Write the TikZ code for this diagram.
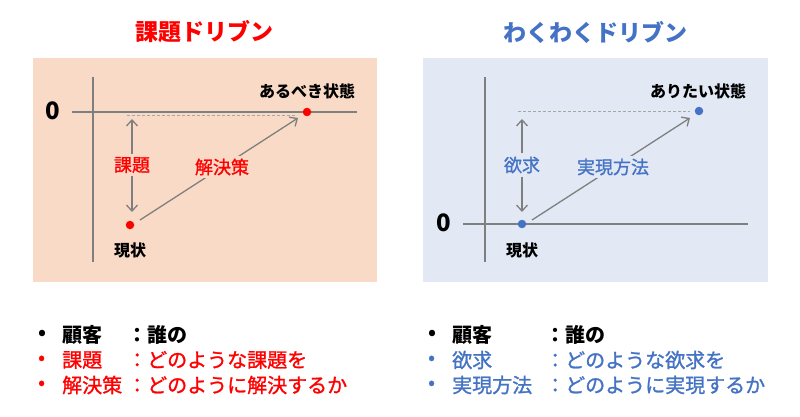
\documentclass[tikz,border=0pt]{standalone}
\usepackage{fontspec}
\setmainfont{Noto Sans CJK JP}
\newfontfamily\medfont[FakeBold=1.2]{Noto Sans CJK JP}
\usetikzlibrary{arrows.meta}
\definecolor{kred}{HTML}{FF0000}
\definecolor{kblue}{HTML}{4472C4}
\definecolor{peach}{HTML}{F8DAC6}
\definecolor{paleblue}{HTML}{E2E9F5}
\definecolor{axisgray}{HTML}{7F7F7F}
\definecolor{dashgray}{HTML}{A6A6A6}
\tikzset{
  axisline/.style={draw=axisgray, line width=1.4pt},
  guide/.style={draw=dashgray, line width=0.9pt, dash pattern=on 3pt off 2pt},
  arrowline/.style={draw=axisgray, line width=1.3pt, -{Straight Barb[length=6pt,width=11pt,line width=1.3pt]}},
  dot/.style={circle, inner sep=0pt, minimum size=8.5pt},
  title/.style={font=\fontsize{23}{27}\selectfont\bfseries},
  zero/.style={font=\fontsize{24}{27}\selectfont\bfseries},
  statelbl/.style={font=\fontsize{16}{19}\selectfont\bfseries, text=black},
  keylbl/.style={font=\fontsize{18}{21}\selectfont\medfont, inner sep=2pt},
  listtxt/.style={font=\fontsize{20}{24}\selectfont\medfont, anchor=west, inner sep=0pt},
  listblack/.style={listtxt, text=black, font=\fontsize{20}{24}\selectfont\bfseries},
}
\begin{document}
\begin{tikzpicture}[x=1pt,y=-1pt]
\useasboundingbox (0,0) rectangle (800,417);
\fill[white] (0,0) rectangle (800,417);

% titles
\node[title, text=kred] (t1) at (204,32) {課題ドリブン};
\node[title, text=kblue] (t2) at (595,32) {わくわくドリブン};

% panels
\fill[peach] (33,58) rectangle (377,282);
\fill[paleblue] (423,58) rectangle (768,282);

% ---------- left panel ----------
\draw[axisline] (93,77) -- (93,262);
\draw[axisline] (72,112) -- (357,112);
\node[zero] (z1) at (53,111) {0};
\draw[guide] (127,115) -- (297,115);
\node[dot, fill=kred] (goal1) at (307,112) {};
\node[statelbl] (goal1l) at (307,91) {あるべき状態};
\node[dot, fill=kred] (cur1) at (130,225) {};
\node[statelbl] (cur1l) at (130,250) {現状};
\node[keylbl, text=kred] (gap1) at (132,165) {課題};
\coordinate (gap1t) at (132,119);
\coordinate (gap1b) at (132,212);
\draw[arrowline] (gap1.north) ++(0,-1) -- (gap1t);
\draw[arrowline] (gap1.south) ++(0,1) -- (gap1b);
\coordinate (s1a) at (140,220);
\coordinate (s1b) at (298,118);
\draw[arrowline] (s1a) -- (s1b);
\node[keylbl, text=kred, fill=peach, inner sep=3pt] (sol1) at (222,167) {解決策};

% ---------- right panel ----------
\draw[axisline] (485,77) -- (485,262);
\draw[axisline] (463,224) -- (748,224);
\node[zero] (z2) at (444,223) {0};
\draw[guide] (518,111) -- (690,111);
\node[dot, fill=kblue] (goal2) at (699,111) {};
\node[statelbl] (goal2l) at (698,91) {ありたい状態};
\node[dot, fill=kblue] (cur2) at (522,224) {};
\node[statelbl] (cur2l) at (522,250) {現状};
\node[keylbl, text=kblue] (gap2) at (522,165) {欲求};
\coordinate (gap2t) at (522,119);
\coordinate (gap2b) at (522,212);
\draw[arrowline] (gap2.north) ++(0,-1) -- (gap2t);
\draw[arrowline] (gap2.south) ++(0,1) -- (gap2b);
\coordinate (s2a) at (532,220);
\coordinate (s2b) at (690,118);
\draw[arrowline] (s2a) -- (s2b);
\node[keylbl, text=kblue, fill=paleblue, inner sep=3pt] (sol2) at (613,167) {実現方法};

% ---------- left list ----------
\node[listblack] (lb1) at (38,335) {\textbullet};
\node[listtxt, text=kred] (lb2) at (38,360) {\textbullet};
\node[listtxt, text=kred] (lb3) at (38,385) {\textbullet};
\node[listblack] (l1a) at (62,335) {顧客};
\node[listtxt, text=kred] (l2a) at (62,360) {課題};
\node[listtxt, text=kred] (l3a) at (62,385) {解決策};
\node[listblack] (l1b) at (127,335) {：誰の};
\node[listtxt, text=kred] (l2b) at (127,360) {：どのような課題を};
\node[listtxt, text=kred] (l3b) at (127,385) {：どのように解決するか};

% ---------- right list ----------
\node[listblack] (rb1) at (428,335) {\textbullet};
\node[listtxt, text=kblue] (rb2) at (428,360) {\textbullet};
\node[listtxt, text=kblue] (rb3) at (428,385) {\textbullet};
\node[listblack] (r1a) at (452,335) {顧客};
\node[listtxt, text=kblue] (r2a) at (452,360) {欲求};
\node[listtxt, text=kblue] (r3a) at (452,385) {実現方法};
\node[listblack] (r1b) at (545,335) {：誰の};
\node[listtxt, text=kblue] (r2b) at (545,360) {：どのような欲求を};
\node[listtxt, text=kblue] (r3b) at (545,385) {：どのように実現するか};
\end{tikzpicture}
\end{document}
